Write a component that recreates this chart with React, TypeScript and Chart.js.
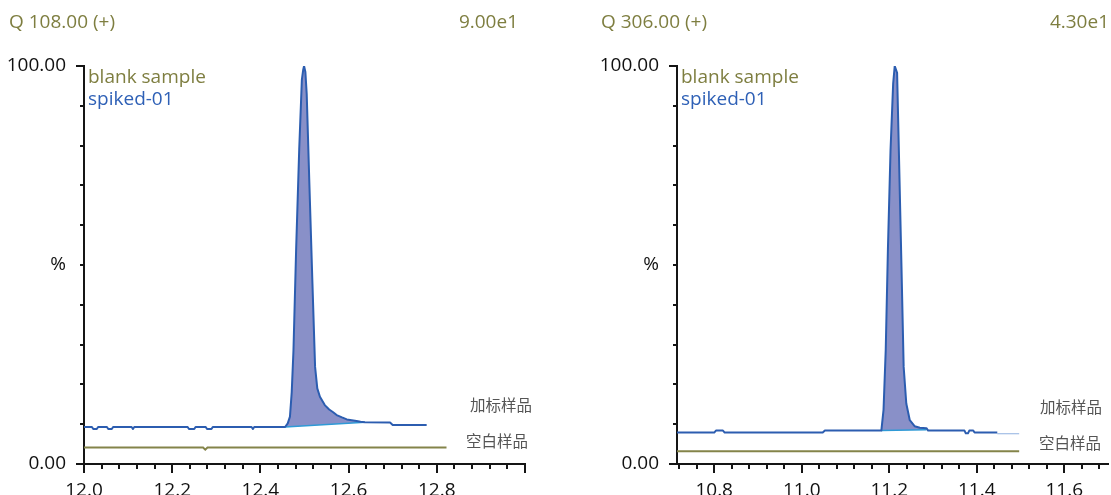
import React, { useEffect, useRef } from "react";
import { Chart, registerables } from "chart.js";

Chart.register(...registerables);

// ---------------- data: left panel (Q 108.00 (+)) ----------------
const leftTitle = "Q 108.00 (+)";
const leftIntensity = "9.00e1";
const leftBlankTime = [12.0, 12.27, 12.275, 12.28, 12.822];
const leftBlankValue = [4.15, 4.15, 3.6, 4.15, 4.15];
const leftSpikedTime = [
  12.0, 12.018, 12.021, 12.029, 12.032, 12.052, 12.055, 12.063, 12.066, 12.108,
  12.111, 12.114, 12.235, 12.238, 12.25, 12.253, 12.276, 12.279, 12.289, 12.292,
  12.38, 12.383, 12.386, 12.456, 12.462, 12.467, 12.471, 12.475, 12.481, 12.488,
  12.494, 12.497, 12.499, 12.502, 12.505, 12.511, 12.518, 12.524, 12.529, 12.535,
  12.546, 12.556, 12.565, 12.573, 12.585, 12.596, 12.607, 12.618, 12.627, 12.637,
  12.694, 12.7, 12.777,
];
const leftSpikedValue = [
  9.3, 9.3, 8.8, 8.8, 9.3, 9.3, 8.8, 8.8, 9.3, 9.3,
  8.8, 9.3, 9.3, 8.8, 8.8, 9.3, 9.3, 8.8, 8.8, 9.3,
  9.3, 8.8, 9.3, 9.3, 10.2, 11.9, 18.0, 28.6, 53.8, 79.0,
  96.5, 99.0, 100, 98.5, 93.0, 70.6, 45.4, 24.4, 19.0, 16.9,
  14.8, 13.7, 13.0, 12.3, 11.7, 11.2, 11.0, 10.8, 10.6, 10.5,
  10.4, 9.8, 9.8,
];
const leftPeakTime = [12.456, 12.637];
const leftPeakBaseValue = [9.3, 10.5];
const leftXRange = [12.0, 13.0];
const leftMajorTicks = [12.0, 12.2, 12.4, 12.6, 12.8, 13.0];
const leftMajorLabels = ["12.0", "12.2", "12.4", "12.6", "12.8", ""];

// ---------------- data: right panel (Q 306.00 (+)) ----------------
const rightTitle = "Q 306.00 (+)";
const rightIntensity = "4.30e1";
const rightBlankTime = [10.715, 11.497];
const rightBlankValue = [3.2, 3.2];
const rightSpikedTime = [
  10.715, 10.8, 10.804, 10.82, 10.824, 11.048, 11.053, 11.182, 11.187, 11.192,
  11.197, 11.203, 11.209, 11.2126, 11.218, 11.222, 11.228, 11.233, 11.239, 11.247,
  11.258, 11.27, 11.285, 11.289, 11.372, 11.375, 11.38, 11.383, 11.392, 11.395,
  11.447,
];
const rightSpikedValue = [
  7.9, 7.9, 8.4, 8.4, 7.9, 7.9, 8.4, 8.4, 13.6, 28.6,
  53.8, 78.9, 95.6, 100, 98.3, 78.9, 49.6, 24.4, 15.2, 11.0,
  9.5, 9.1, 9.0, 8.4, 8.4, 7.7, 7.7, 8.4, 8.4, 7.9,
  7.9,
];
const rightTailTime = [11.447, 11.497];
const rightTailValue = [7.6, 7.6];
const rightPeakTime = [11.182, 11.285];
const rightPeakBaseValue = [8.4, 8.6];
const rightXRange = [10.715, 11.7];
const rightMajorTicks = [10.8, 11.0, 11.2, 11.4, 11.6];
const rightMajorLabels = ["10.8", "11.0", "11.2", "11.4", "11.6"];

// ---------------- shared ----------------
const yTickValues = [0, 10, 20, 30, 40, 50, 60, 70, 80, 90, 100];
const yTickLabels = ["0.00", "", "", "", "", "%", "", "", "", "", "100.00"];
const legendLabels = ["blank sample", "spiked-01"];
const traceLabels = ["加标样品", "空白样品"];

const FONT = "'Open Sans', 'Noto Sans', sans-serif";
const CJK = "'Noto Sans CJK SC', sans-serif";
const OLIVE_TEXT = "#7e7e40";
const OLIVE_LINE = "#84844a";
const BLUE_LINE = "#2c5db0";
const BLUE_TEXT = "#2e60b6";
const FILL = "#8990c8";
const CYAN = "#2f9ad6";
const GRAY = "#555555";
const AXIS = "#151515";

const toPoints = (t: number[], v: number[]) => t.map((x, i) => ({ x, y: v[i] }));

function minorTicks(min: number, max: number, step: number) {
  const out: number[] = [];
  for (let k = Math.ceil(min / step - 1e-6); k <= Math.floor(max / step + 1e-6); k++) {
    out.push(Math.round(k * step * 1e6) / 1e6);
  }
  return out;
}

type PanelProps = {
  left: number;
  width: number;
  axisLeft: number;
  padRight: number;
  title: string;
  intensity: string;
  titleX: number;
  intensityX: number;
  legendX: number;
  cnX: number[];
  cnY: number[];
  blank: { x: number; y: number }[];
  spiked: { x: number; y: number }[];
  tail?: { x: number; y: number }[];
  peakTime: number[];
  peakBase: number[];
  xRange: number[];
  majors: number[];
  majorLabels: string[];
};

function Panel(p: PanelProps) {
  const ref = useRef<HTMLCanvasElement | null>(null);
  useEffect(() => {
    const canvas = ref.current;
    if (!canvas) return;
    const xTicks = minorTicks(p.xRange[0], p.xRange[1], 0.04);
    const isMajor = (v: number) => p.majors.some((m) => Math.abs(m - v) < 1e-6);
    const fillPts = p.spiked.filter((pt) => pt.x >= p.peakTime[0] - 1e-9 && pt.x <= p.peakTime[1] + 1e-9);

    const datasets: any[] = [
      { label: "spiked-01", data: p.spiked, borderColor: BLUE_LINE, borderWidth: 2, pointRadius: 0, fill: false, tension: 0, borderJoinStyle: "round" },
      { label: "baseline", data: toPoints(p.peakTime, p.peakBase), borderColor: CYAN, borderWidth: 1.5, pointRadius: 0, fill: false },
      { label: "area", data: fillPts, borderWidth: 0, borderColor: "rgba(0,0,0,0)", backgroundColor: FILL, pointRadius: 0, fill: 1 },
      { label: "blank sample", data: p.blank, borderColor: OLIVE_LINE, borderWidth: 2, pointRadius: 0, fill: false },
    ];
    if (p.tail) {
      datasets.push({ label: "tail", data: p.tail, borderColor: "#8fb0e0", borderWidth: 1, pointRadius: 0, fill: false });
    }

    const decor = {
      id: "decor",
      afterDraw(chart: any) {
        const ctx = chart.ctx as CanvasRenderingContext2D;
        const xs = chart.scales.x;
        const ys = chart.scales.y;
        const area = chart.chartArea;
        ctx.save();
        ctx.strokeStyle = AXIS;
        ctx.lineWidth = 2;
        ctx.beginPath();
        xTicks.forEach((v) => {
          const px = Math.round(xs.getPixelForValue(v));
          const len = isMajor(v) ? 9 : 5;
          ctx.moveTo(px, area.bottom);
          ctx.lineTo(px, area.bottom + len);
        });
        yTickValues.forEach((v, i) => {
          const py = Math.round(ys.getPixelForValue(v));
          const len = yTickLabels[i] && yTickLabels[i] !== "%" ? 8 : 4;
          ctx.moveTo(area.left - len, py);
          ctx.lineTo(area.left, py);
        });
        ctx.stroke();

        ctx.textBaseline = "middle";
        ctx.font = `19px ${FONT}`;
        ctx.fillStyle = OLIVE_TEXT;
        ctx.textAlign = "left";
        ctx.fillText(p.title, p.titleX, 23);
        ctx.textAlign = "right";
        ctx.fillText(p.intensity, p.intensityX, 23);
        ctx.textAlign = "left";
        ctx.font = `19px ${FONT}`;
        ctx.fillStyle = OLIVE_TEXT;
        ctx.fillText(legendLabels[0], p.legendX, 78);
        ctx.fillStyle = BLUE_TEXT;
        ctx.fillText(legendLabels[1], p.legendX, 100);
        ctx.font = `15.5px ${CJK}`;
        ctx.fillStyle = GRAY;
        ctx.fillText(traceLabels[0], p.cnX[0], p.cnY[0]);
        ctx.fillText(traceLabels[1], p.cnX[1], p.cnY[1]);
        ctx.restore();
      },
    };

    const chart = new Chart(canvas, {
      type: "line",
      data: { datasets },
      options: {
        animation: false,
        responsive: false,
        maintainAspectRatio: false,
        devicePixelRatio: 1,
        events: [],
        layout: { padding: { left: 0, top: 66, right: p.padRight, bottom: 0 } },
        plugins: { legend: { display: false }, tooltip: { enabled: false }, title: { display: false } },
        scales: {
          x: {
            type: "linear",
            min: p.xRange[0],
            max: p.xRange[1],
            afterFit: (s: any) => { s.height = 31; },
            afterBuildTicks: (s: any) => { s.ticks = xTicks.map((v) => ({ value: v })); },
            grid: { display: false },
            border: { display: true, color: AXIS, width: 2 },
            ticks: {
              autoSkip: false,
              maxRotation: 0,
              minRotation: 0,
              padding: 7,
              color: "#111111",
              font: { family: FONT, size: 19 },
              callback: (v: any) => {
                const i = p.majors.findIndex((m) => Math.abs(m - Number(v)) < 1e-6);
                return i >= 0 ? p.majorLabels[i] : "";
              },
            },
          },
          y: {
            type: "linear",
            min: 0,
            max: 100,
            afterFit: (s: any) => { s.width = p.axisLeft; },
            afterBuildTicks: (s: any) => { s.ticks = yTickValues.map((v) => ({ value: v })); },
            grid: { display: false },
            border: { display: true, color: AXIS, width: 2 },
            ticks: {
              padding: 10,
              color: "#111111",
              font: { family: FONT, size: 19 },
              callback: (v: any) => {
                const i = yTickValues.indexOf(Number(v));
                return i >= 0 ? yTickLabels[i] : "";
              },
            },
          },
        },
      } as any,
      plugins: [decor],
    });
    return () => chart.destroy();
  }, []);
  return (
    <canvas
      ref={ref}
      width={p.width}
      height={495}
      style={{ position: "absolute", left: p.left, top: 0, width: p.width, height: 495 }}
    />
  );
}

export default function App() {
  return (
    <div style={{ position: "absolute", left: 0, top: 0, width: 1111, height: 495, background: "#ffffff", overflow: "hidden" }}>
      <Panel
        left={0}
        width={555}
        axisLeft={84}
        padRight={30}
        title={leftTitle}
        intensity={leftIntensity}
        titleX={9}
        intensityX={518}
        legendX={88}
        cnX={[470, 466]}
        cnY={[405, 441]}
        blank={toPoints(leftBlankTime, leftBlankValue)}
        spiked={toPoints(leftSpikedTime, leftSpikedValue)}
        peakTime={leftPeakTime}
        peakBase={leftPeakBaseValue}
        xRange={leftXRange}
        majors={leftMajorTicks}
        majorLabels={leftMajorLabels}
      />
      <Panel
        left={555}
        width={556}
        axisLeft={122}
        padRight={3}
        title={rightTitle}
        intensity={rightIntensity}
        titleX={46}
        intensityX={554}
        legendX={126}
        cnX={[485, 484]}
        cnY={[407, 443]}
        blank={toPoints(rightBlankTime, rightBlankValue)}
        spiked={toPoints(rightSpikedTime, rightSpikedValue)}
        tail={toPoints(rightTailTime, rightTailValue)}
        peakTime={rightPeakTime}
        peakBase={rightPeakBaseValue}
        xRange={rightXRange}
        majors={rightMajorTicks}
        majorLabels={rightMajorLabels}
      />
    </div>
  );
}
